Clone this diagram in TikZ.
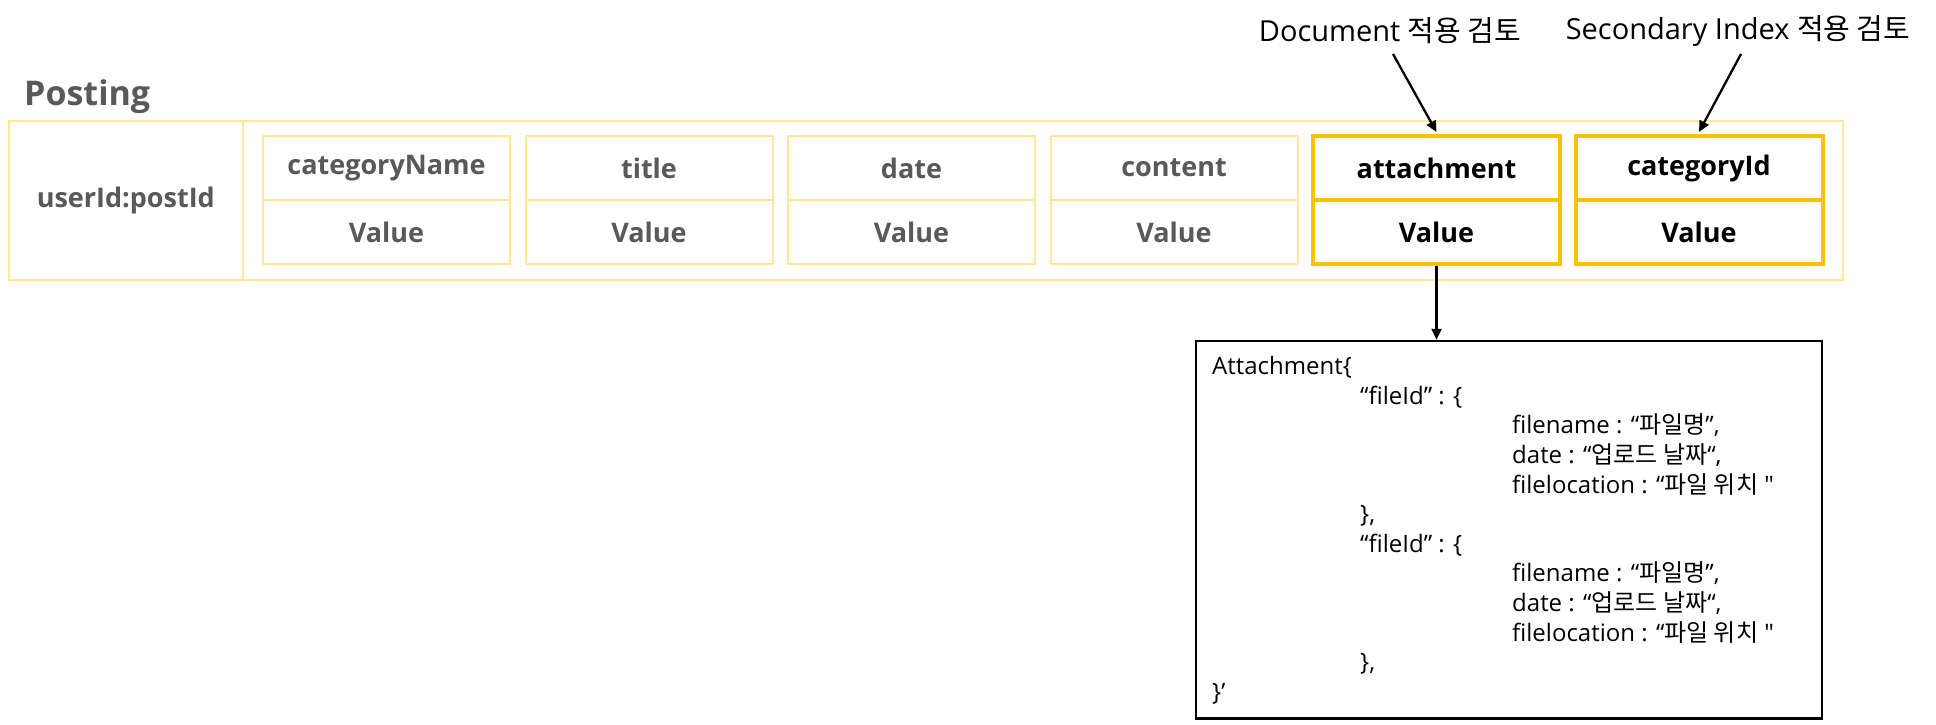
\documentclass[tikz,border=0pt]{standalone}
\usepackage{fontspec}
\newfontfamily\lat{Open Sans}
\newfontfamily\kr{Noto Sans CJK KR}
\usetikzlibrary{arrows.meta}
\definecolor{gtxt}{HTML}{595959}
\definecolor{lgold}{HTML}{FFE699}
\definecolor{gold}{HTML}{FFC000}
\tikzset{
  field/.style={draw=lgold, line width=2pt, minimum width=247pt, minimum height=64pt, inner sep=0pt,
    font=\fontsize{27}{30}\lat\bfseries, text=gtxt},
  hfield/.style={field, draw=gold, line width=4pt, text=black},
  arr/.style={line width=2.3pt, -{Triangle[length=11pt,width=10pt]}},
  lbl/.style={font=\fontsize{29}{32}\lat, inner sep=0pt},
  jtxt/.style={font=\fontsize{24}{28}\lat, inner sep=0pt, anchor=west, text height=17pt, text depth=6pt}
}
\begin{document}
\begin{tikzpicture}[x=1pt,y=-1pt]
\useasboundingbox[fill=white] (0,0) rectangle (1936,725);
% title
\node[font=\fontsize{34}{40}\lat\bfseries, text=gtxt, anchor=base west, inner sep=0pt] (title) at (24,106) {Posting};
% outer box
\node[draw=lgold, line width=2pt, minimum width=1834.4pt, minimum height=159pt, inner sep=0pt] (outer) at (926,200.5) {};
\node[draw=lgold, line width=2pt, minimum width=234.4pt, minimum height=159pt, inner sep=0pt,
  font=\fontsize{27}{30}\lat\bfseries, text=gtxt] (key) at (125.8,200.5) {userId:postId};
% fields
\node[field] (k1) at (386.5,168) {categoryName};
\node[field] (v1) at (386.5,232) {Value};
\node[field] (k2) at (649,168) {title};
\node[field] (v2) at (649,232) {Value};
\node[field] (k3) at (911.5,168) {date};
\node[field] (v3) at (911.5,232) {Value};
\node[field] (k4) at (1174,168) {content};
\node[field] (v4) at (1174,232) {Value};
\node[hfield] (k5) at (1436.5,168) {attachment};
\node[hfield] (v5) at (1436.5,232) {Value};
\node[hfield] (k6) at (1699,168) {categoryId};
\node[hfield] (v6) at (1699,232) {Value};
% labels
\node[lbl] (doclbl) at (1390,31) {Document {\kr 적용 검토}};
\node[lbl] (seclbl) at (1738,31) {Secondary Index {\kr 적용 검토}};
\coordinate (d0) at (1393,54);
\coordinate (s0) at (1741,54);
\draw[arr] (d0) -- ([yshift=2pt]k5.north);
\draw[arr] (s0) -- ([yshift=2pt]k6.north);
% json box
\node[draw=black, line width=2.5pt, minimum width=626pt, minimum height=377.6pt, inner sep=0pt] (json) at (1509,529.8) {};
\draw[arr] (v5.south) -- (v5.south |- json.north);
\node[jtxt] (j1) at (1212,369.2) {Attachment\{};
\node[jtxt] (j2) at (1360,398.8) {“fileId” : \{};
\node[jtxt] (j3) at (1512,428.4) {filename : “{\kr 파일명}”,};
\node[jtxt] (j4) at (1512,458.0) {date : “{\kr 업로드 날짜}“,};
\node[jtxt] (j5) at (1512,487.6) {filelocation : “{\kr 파일 위치} "};
\node[jtxt] (j6) at (1360,517.2) {\},};
\node[jtxt] (j7) at (1360,546.8) {“fileId” : \{};
\node[jtxt] (j8) at (1512,576.4) {filename : “{\kr 파일명}”,};
\node[jtxt] (j9) at (1512,606.0) {date : “{\kr 업로드 날짜}“,};
\node[jtxt] (j10) at (1512,635.6) {filelocation : “{\kr 파일 위치} "};
\node[jtxt] (j11) at (1360,665.2) {\},};
\node[jtxt] (j12) at (1212,694.8) {\}’};
\end{tikzpicture}
\end{document}
